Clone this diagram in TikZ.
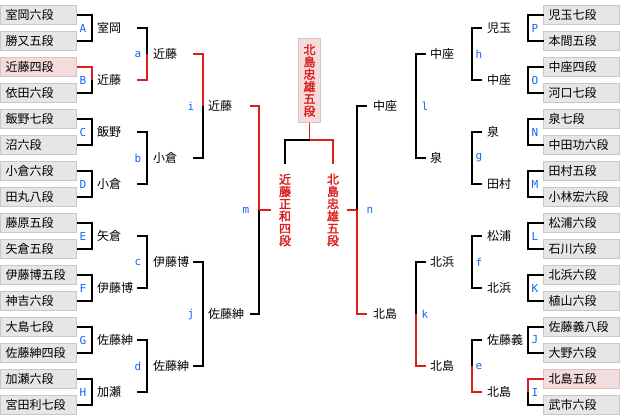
\documentclass[tikz,border=0pt]{standalone}
\usepackage{fontspec}
\usepackage{tikz}
\newfontfamily\giapponese{Noto Sans CJK JP}
\newfontfamily\giappgrassetto[FakeBold=2]{Noto Sans CJK JP}
\newfontfamily\lettere{DejaVu Sans Mono}
\definecolor{grigiofondo}{HTML}{E6E6E6}
\definecolor{grigiobordo}{HTML}{C8C8C8}
\definecolor{rosafondo}{HTML}{F4DCDC}
\definecolor{rosabordo}{HTML}{DEC2C2}
\definecolor{rosso}{HTML}{DD1C1C}
\definecolor{blu}{HTML}{1466F0}

\begin{document}
\begin{tikzpicture}[
  x=1pt, y=-1pt,
  font=\giapponese\fontsize{12}{12}\selectfont,
  casella/.style={draw=grigiobordo, fill=grigiofondo, line width=1pt, anchor=west,
                  minimum height=19pt, text width=66pt, inner xsep=5pt, inner ysep=0pt,
                  outer sep=0pt, align=left},
  casellarosa/.style={casella, draw=rosabordo, fill=rosafondo},
  nome/.style={anchor=west, inner sep=0pt},
  lettera/.style={text=blu, inner sep=0pt, font=\lettere\fontsize{11}{11}\selectfont},
  ramo/.style={draw=black, line width=1.2pt},
  ramorosso/.style={draw=rosso, line width=1.2pt},
  testoverticale/.style={text=rosso, align=center, font=\giappgrassetto\fontsize{12}{12.3}\selectfont},
  verticale/.style={testoverticale, minimum width=28pt, minimum height=92pt, inner sep=1pt},
  campione/.style={testoverticale, draw=rosabordo, fill=rosafondo, line width=1pt,
                   minimum width=22pt, minimum height=84pt, inner sep=1pt, outer sep=0pt}
]
\useasboundingbox (0,0) rectangle (620,416);

% ---- tabellone sinistro: caselle dei giocatori ----------------------
\foreach \n/\st/\testo in {1/casella/室岡六段, 2/casella/勝又五段, 3/casellarosa/近藤四段,
    4/casella/依田六段, 5/casella/飯野七段, 6/casella/沼六段, 7/casella/小倉六段,
    8/casella/田丸八段, 9/casella/藤原五段, 10/casella/矢倉五段, 11/casella/伊藤博五段,
    12/casella/神吉六段, 13/casella/大島七段, 14/casella/佐藤紳四段, 15/casella/加瀬六段,
    16/casella/宮田利七段} {
  \node[\st] (s\n) at (0.5,{15+26*(\n-1)}) {\testo};
}

% ---- primo turno (A-H) ----------------------------------------------
\foreach \p/\q/\sigla/\y/\csu/\cgiu/\testo in {1/2/A/28/ramo/ramo/室岡,
    3/4/B/80/ramorosso/ramo/近藤, 5/6/C/132/ramo/ramo/飯野, 7/8/D/184/ramo/ramo/小倉,
    9/10/E/236/ramo/ramo/矢倉, 11/12/F/288/ramo/ramo/伊藤博,
    13/14/G/340/ramo/ramo/佐藤紳, 15/16/H/392/ramo/ramo/加瀬} {
  \coordinate (\sigla) at (92,\y);
  \draw[\csu] (s\p.east) -| (\sigla);
  \draw[\cgiu] (s\q.east) -| (\sigla);
  \node[lettera] (et-\sigla) at (83,\y) {\sigla};
  \node[nome] (nm-\sigla) at (97,\y) {\testo};
}

% ---- secondo turno (a-d) --------------------------------------------
\foreach \sigla/\y/\csu/\cgiu/\testo in {a/54/ramo/ramorosso/近藤, b/158/ramo/ramo/小倉,
    c/262/ramo/ramo/伊藤博, d/366/ramo/ramo/佐藤紳} {
  \coordinate (\sigla) at (147,\y);
  \coordinate (\sigla-su) at (137,\y-26);
  \coordinate (\sigla-giu) at (137,\y+26);
  \draw[\csu] (\sigla-su) -| (\sigla);
  \draw[\cgiu] (\sigla-giu) -| (\sigla);
  \node[lettera] (et-\sigla) at (138,\y) {\sigla};
  \node[nome] (nm-\sigla) at (153,\y) {\testo};
}

% ---- terzo turno (i, j) ---------------------------------------------
\foreach \sigla/\y/\csu/\cgiu/\testo in {i/106/ramorosso/ramo/近藤, j/314/ramo/ramo/佐藤紳} {
  \coordinate (\sigla) at (203,\y);
  \coordinate (\sigla-su) at (193,\y-52);
  \coordinate (\sigla-giu) at (193,\y+52);
  \draw[\csu] (\sigla-su) -| (\sigla);
  \draw[\cgiu] (\sigla-giu) -| (\sigla);
  \node[lettera] (et-\sigla) at (191,\y) {\sigla};
  \node[nome] (nm-\sigla) at (208,\y) {\testo};
}

% ---- tabellone destro: caselle dei giocatori ------------------------
\foreach \n/\st/\testo in {1/casella/児玉七段, 2/casella/本間五段, 3/casella/中座四段,
    4/casella/河口七段, 5/casella/泉七段, 6/casella/中田功六段, 7/casella/田村五段,
    8/casella/小林宏六段, 9/casella/松浦六段, 10/casella/石川六段, 11/casella/北浜六段,
    12/casella/植山六段, 13/casella/佐藤義八段, 14/casella/大野六段,
    15/casellarosa/北島五段, 16/casella/武市六段} {
  \node[\st] (d\n) at (543.5,{15+26*(\n-1)}) {\testo};
}

% ---- primo turno (I-P) ----------------------------------------------
\foreach \p/\q/\sigla/\y/\csu/\cgiu/\testo in {1/2/P/28/ramo/ramo/児玉,
    3/4/O/80/ramo/ramo/中座, 5/6/N/132/ramo/ramo/泉, 7/8/M/184/ramo/ramo/田村,
    9/10/L/236/ramo/ramo/松浦, 11/12/K/288/ramo/ramo/北浜,
    13/14/J/340/ramo/ramo/佐藤義, 15/16/I/392/ramorosso/ramo/北島} {
  \coordinate (\sigla) at (528,\y);
  \draw[\csu] (d\p.west) -| (\sigla);
  \draw[\cgiu] (d\q.west) -| (\sigla);
  \node[lettera] (et-\sigla) at (535,\y) {\sigla};
  \node[nome] (nm-\sigla) at (487,\y) {\testo};
}

% ---- secondo turno (e-h) --------------------------------------------
\foreach \sigla/\y/\csu/\cgiu/\testo in {h/54/ramo/ramo/中座, g/158/ramo/ramo/泉,
    f/262/ramo/ramo/北浜, e/366/ramo/ramorosso/北島} {
  \coordinate (\sigla) at (472,\y);
  \coordinate (\sigla-su) at (482,\y-26);
  \coordinate (\sigla-giu) at (482,\y+26);
  \draw[\csu] (\sigla-su) -| (\sigla);
  \draw[\cgiu] (\sigla-giu) -| (\sigla);
  \node[lettera] (et-\sigla) at (479,\y) {\sigla};
  \node[nome] (nm-\sigla) at (430,\y) {\testo};
}

% ---- terzo turno (k, l) ---------------------------------------------
\foreach \sigla/\y/\csu/\cgiu/\testo in {l/106/ramo/ramo/中座, k/314/ramo/ramorosso/北島} {
  \coordinate (\sigla) at (416,\y);
  \coordinate (\sigla-su) at (426,\y-52);
  \coordinate (\sigla-giu) at (426,\y+52);
  \draw[\csu] (\sigla-su) -| (\sigla);
  \draw[\cgiu] (\sigla-giu) -| (\sigla);
  \node[lettera] (et-\sigla) at (425,\y) {\sigla};
  \node[nome] (nm-\sigla) at (373,\y) {\testo};
}

% ---- semifinali (m, n) e finale -------------------------------------
\node[verticale] (vsx) at (285,210) {近\\藤\\正\\和\\四\\段};
\node[verticale] (vdx) at (333,210) {北\\島\\忠\\雄\\五\\段};
\node[campione] (campione) at (309.5,80.5) {北\\島\\忠\\雄\\五\\段};

\coordinate (m) at (259,210);
\coordinate (m-su) at (250,106);
\coordinate (m-giu) at (250,314);
\draw[ramorosso] (m-su) -| (m);
\draw[ramo] (m-giu) -| (m);
\draw[ramorosso] (m) -- (vsx.west);
\node[lettera] (et-m) at (246,210) {m};

\coordinate (n) at (357,210);
\coordinate (n-su) at (367,106);
\coordinate (n-giu) at (367,314);
\draw[ramo] (n-su) -| (n);
\draw[ramorosso] (n-giu) -| (n);
\draw[ramorosso] (n) -- (vdx.east);
\node[lettera] (et-n) at (370,210) {n};

\coordinate (nodo) at (309.5,140);
\draw[ramorosso] (campione.south) -- (nodo);
\draw[ramo] (nodo) -| (vsx.north);
\draw[ramorosso] (nodo) -| (vdx.north);

\end{tikzpicture}
\end{document}
